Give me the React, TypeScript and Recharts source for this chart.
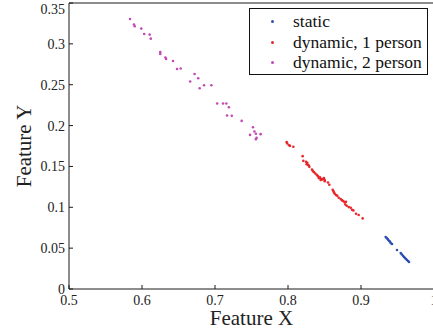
import React from 'react';
import { ScatterChart, Scatter, XAxis, YAxis } from 'recharts';

const staticPts: [number, number][] = [
  [0.9338, 0.0636], [0.9352, 0.0623], [0.9366, 0.0611], [0.9374, 0.0599], [0.9388, 0.0587],
  [0.9397, 0.0578], [0.9407, 0.0562], [0.9425, 0.055], [0.9493, 0.0477], [0.9544, 0.044],
  [0.9558, 0.0424], [0.9575, 0.0407], [0.9589, 0.0391], [0.9603, 0.0379], [0.9616, 0.0367],
  [0.963, 0.0355], [0.9644, 0.0342], [0.9658, 0.033],
];

const dyn1Pts: [number, number][] = [
  [0.7982, 0.1797], [0.799, 0.1781], [0.8014, 0.176], [0.8027, 0.1752], [0.8073, 0.174],
  [0.8201, 0.1626], [0.821, 0.1568], [0.8247, 0.1556], [0.8264, 0.1544], [0.8256, 0.1528],
  [0.8274, 0.152], [0.8284, 0.1512], [0.8292, 0.1495], [0.8329, 0.1463], [0.8338, 0.1446],
  [0.8356, 0.143], [0.8374, 0.1414], [0.8393, 0.1397], [0.8411, 0.1381], [0.8421, 0.1357],
  [0.8438, 0.1366], [0.8448, 0.1348], [0.8466, 0.1341], [0.8484, 0.1348], [0.8493, 0.1357],
  [0.8503, 0.1333], [0.8448, 0.1333], [0.8503, 0.132], [0.8548, 0.1304], [0.8566, 0.1275],
  [0.8612, 0.1214], [0.8621, 0.1198], [0.863, 0.1182], [0.864, 0.1165], [0.8658, 0.1149],
  [0.8675, 0.1141], [0.8695, 0.1116], [0.8722, 0.11], [0.874, 0.1084], [0.8758, 0.1076],
  [0.8777, 0.106], [0.8795, 0.1067], [0.8785, 0.1035], [0.8804, 0.1018], [0.8832, 0.1002],
  [0.8859, 0.0994], [0.8877, 0.0969], [0.8895, 0.0962], [0.8932, 0.0921], [0.8968, 0.0905],
  [0.9023, 0.0864],
];

const dyn2Pts: [number, number][] = [
  [0.5836, 0.3304], [0.589, 0.3236], [0.59, 0.3215], [0.599, 0.3187], [0.603, 0.3121],
  [0.6105, 0.3113], [0.612, 0.3064], [0.625, 0.29], [0.625, 0.2877], [0.632, 0.2833],
  [0.633, 0.2815], [0.6425, 0.2791], [0.648, 0.2693], [0.653, 0.2698], [0.672, 0.2632],
  [0.666, 0.254], [0.677, 0.258], [0.679, 0.2457], [0.685, 0.2494], [0.695, 0.2494],
  [0.703, 0.227], [0.711, 0.227], [0.7155, 0.227], [0.719, 0.2225], [0.7165, 0.2123],
  [0.723, 0.2119], [0.7365, 0.2057], [0.752, 0.198], [0.754, 0.1928], [0.748, 0.1886],
  [0.756, 0.19], [0.757, 0.185], [0.756, 0.1834], [0.7625, 0.1895],
];

const xTicks = [0.5, 0.6, 0.7, 0.8, 0.9, 1];
const yTicks = [0, 0.05, 0.1, 0.15, 0.2, 0.25, 0.3, 0.35];
const seriesNames = ['static', 'dynamic, 1 person', 'dynamic, 2 person'];
const seriesColors = ['#2f4fb3', '#e8262a', '#c24ab2'];

const toObj = (pts: [number, number][]) => pts.map(([x, y]) => ({ x, y }));

const FONT = '"Liberation Serif", "Times New Roman", serif';
const AX = '#1a1a1a';

const Dot = (props: any) => {
  const { cx, cy, fill } = props;
  if (cx == null || cy == null) return null;
  return <circle cx={cx} cy={cy} r={1.3} fill={fill} />;
};

const XTick = (props: any) => {
  const { x, y, payload } = props;
  return (
    <text x={x} y={y} dy="0.71em" textAnchor="middle" fontFamily={FONT} fontSize={14} fill="#222">
      {String(payload.value)}
    </text>
  );
};

const YTick = (props: any) => {
  const { x, y, payload } = props;
  return (
    <text x={x} y={y} dy="0.355em" textAnchor="end" fontFamily={FONT} fontSize={14} fill="#222">
      {String(payload.value)}
    </text>
  );
};

const NoLabel = () => <g />;

function LegendBox() {
  return (
    <div
      style={{
        position: 'absolute',
        left: 249,
        top: 8,
        width: 179,
        height: 67,
        boxSizing: 'border-box',
        border: '1px solid #111',
        background: '#fff',
        fontFamily: FONT,
        fontSize: 17.5,
        color: '#111',
      }}
    >
      {seriesNames.map((name, i) => (
        <div key={name} style={{ position: 'absolute', left: 0, top: 2 + i * 20.5, height: 21, width: 178, lineHeight: '21px', whiteSpace: 'nowrap' }}>
          <span style={{ position: 'absolute', left: 21, top: 9, width: 3, height: 3, background: seriesColors[i], borderRadius: 2 }} />
          <span style={{ position: 'absolute', left: 43, top: 0 }}>{name}</span>
        </div>
      ))}
    </div>
  );
}

export default function App() {
  const datasets = [toObj(staticPts), toObj(dyn1Pts), toObj(dyn2Pts)];
  return (
    <div style={{ position: 'absolute', left: 0, top: 0, width: 433, height: 335, overflow: 'hidden', background: '#fff' }}>
      <ScatterChart width={445} height={335} margin={{ top: 0, right: 0, bottom: 6, left: 0 }}>
        <XAxis
          xAxisId="x"
          dataKey="x"
          type="number"
          domain={[0.5, 1]}
          ticks={xTicks}
          orientation="bottom"
          height={40}
          stroke={AX}
          tickSize={-4}
          tickMargin={10}
          tick={<XTick />}
          label={{
            content: (p: any) => {
              const vb = p.viewBox || { x: 69, y: 289, width: 365 };
              return (
                <text x={vb.x + vb.width / 2} y={vb.y + 36} textAnchor="middle" fontFamily={FONT} fontSize={21} fill="#222">
                  Feature X
                </text>
              );
            },
          }}
        />
        <XAxis xAxisId="top" type="number" domain={[0.5, 1]} ticks={xTicks} orientation="top" height={3} stroke={AX} tickSize={-4} tick={<NoLabel />} />
        <YAxis
          yAxisId="y"
          dataKey="y"
          type="number"
          domain={[0, 0.35]}
          ticks={yTicks}
          width={69}
          stroke={AX}
          tickSize={-4}
          tickMargin={8}
          tick={<YTick />}
          label={{
            content: (p: any) => {
              const vb = p.viewBox || { x: 0, y: 3, height: 286 };
              const cx = vb.x + 31;
              const cy = vb.y + vb.height / 2;
              return (
                <text x={cx} y={cy} transform={`rotate(-90, ${cx}, ${cy})`} textAnchor="middle" fontFamily={FONT} fontSize={21} fill="#222">
                  Feature Y
                </text>
              );
            },
          }}
        />
        <YAxis yAxisId="right" type="number" domain={[0, 0.35]} ticks={yTicks} orientation="right" width={11} stroke={AX} tickSize={-4} tick={<NoLabel />} />
        {datasets.map((d, i) => (
          <Scatter
            key={seriesNames[i]}
            name={seriesNames[i]}
            data={d}
            xAxisId="x"
            yAxisId="y"
            fill={seriesColors[i]}
            shape={<Dot />}
            isAnimationActive={false}
          />
        ))}
      </ScatterChart>
      <LegendBox />
    </div>
  );
}
